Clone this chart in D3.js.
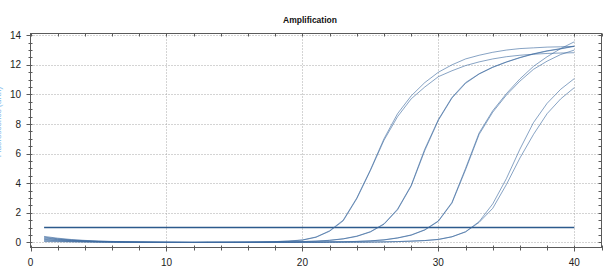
<!DOCTYPE html>
<html>
<head>
<meta charset="utf-8">
<script src="https://cdn.jsdelivr.net/npm/d3@7"></script>
<style>
  html, body { margin: 0; padding: 0; background: #fff; }
  svg { display: block; font-family: "Liberation Sans", Arial, sans-serif; }
</style>
</head>
<body>
<svg id="chart" width="613" height="270"></svg>
<script>
// ---- data ----
const chartTitle = "Amplification";
const yAxisLabel = "Fluorescence (dRn)";
const cycles = [1,2,3,4,5,6,7,8,9,10,11,12,13,14,15,16,17,18,19,20,21,22,23,24,25,26,27,28,29,30,31,32,33,34,35,36,37,38,39,40];

const seriesA1 = [0.40,0.28,0.19,0.13,0.09,0.06,0.04,0.03,0.02,0.01,0.00,0.00,0.00,0.00,0.01,0.02,0.03,0.05,0.09,0.16,0.36,0.78,1.50,3.00,4.90,7.00,8.70,9.90,10.80,11.50,12.00,12.40,12.65,12.85,13.00,13.10,13.15,13.20,13.22,13.25];
const seriesA2 = [0.25,0.18,0.12,0.08,0.05,0.03,0.02,0.01,0.00,0.00,-0.01,-0.01,0.00,0.00,0.00,0.01,0.02,0.04,0.08,0.15,0.34,0.75,1.45,2.95,4.85,6.90,8.50,9.70,10.50,11.20,11.60,11.95,12.20,12.40,12.55,12.65,12.72,12.77,12.80,12.82];
const seriesB1 = [0.30,0.21,0.14,0.09,0.06,0.04,0.02,0.01,0.00,0.00,0.00,-0.01,-0.01,0.00,0.00,0.00,0.01,0.02,0.03,0.05,0.08,0.14,0.24,0.42,0.72,1.25,2.25,3.85,6.30,8.30,9.80,10.80,11.40,11.85,12.20,12.50,12.75,12.95,13.10,13.27];
const seriesB2 = [0.15,0.11,0.07,0.05,0.03,0.02,0.01,0.00,0.00,-0.01,-0.01,-0.01,0.00,0.00,0.00,0.00,0.01,0.02,0.03,0.05,0.08,0.13,0.23,0.40,0.70,1.22,2.20,3.80,6.20,8.25,9.75,10.75,11.38,11.83,12.18,12.48,12.73,12.93,13.08,13.25];
const seriesC1 = [0.35,0.24,0.16,0.11,0.07,0.05,0.03,0.02,0.01,0.00,0.00,0.00,0.00,0.00,0.00,0.00,0.00,0.00,0.01,0.01,0.02,0.03,0.04,0.06,0.10,0.17,0.30,0.50,0.85,1.45,2.70,5.00,7.40,8.90,10.05,11.05,11.90,12.55,13.10,13.56];
const seriesC2 = [0.20,0.14,0.10,0.07,0.04,0.03,0.02,0.01,0.00,0.00,0.00,-0.01,0.00,0.00,0.00,0.00,0.00,0.00,0.01,0.01,0.02,0.03,0.04,0.06,0.10,0.16,0.29,0.48,0.83,1.42,2.65,4.90,7.30,8.80,9.95,10.90,11.70,12.25,12.70,13.00];
const seriesD1 = [0.10,0.07,0.05,0.03,0.02,0.01,0.01,0.00,0.00,0.00,0.00,0.00,0.00,0.00,0.00,0.00,0.00,0.00,0.00,0.00,0.00,0.01,0.01,0.01,0.02,0.03,0.05,0.08,0.12,0.20,0.38,0.72,1.40,2.60,4.30,6.30,8.10,9.40,10.35,11.07];
const seriesD2 = [0.05,0.04,0.03,0.02,0.01,0.01,0.00,0.00,0.00,0.00,0.00,0.00,0.00,0.00,0.00,0.00,0.00,0.00,0.00,0.00,0.00,0.01,0.01,0.01,0.02,0.03,0.05,0.08,0.12,0.19,0.37,0.70,1.35,2.30,3.90,5.70,7.30,8.70,9.70,10.46];
const thresholdValue = 1.0;
const thresholdCycles = [1, 40];

const yTickValues = [0,2,4,6,8,10,12,14];
const xTickValues = [0,10,20,30,40];

// ---- layout ----
const svg = d3.select("#chart");
const pL = 30.5, pR = 601.5, pT = 33.5, pB = 247.5;
const x = d3.scaleLinear().domain([0, 42]).range([pL, pR]);
const y = d3.scaleLinear().domain([-0.35, 14.12]).range([pB, pT]);

const allSeries = [seriesA1, seriesA2, seriesB1, seriesB2, seriesC1, seriesC2, seriesD1, seriesD2];

// grid
const yMinor = d3.range(0, 14.01, 0.5);
const xMinor = d3.range(0, 42.01, 2);
const grid = svg.append("g");
grid.selectAll("line.gy").data(yTickValues).join("line")
  .attr("x1", pL).attr("x2", pR)
  .attr("y1", d => Math.round(y(d)) + 0.5).attr("y2", d => Math.round(y(d)) + 0.5)
  .attr("stroke", "#a8a8a8").attr("stroke-width", 1).attr("stroke-dasharray", "1,2");
grid.selectAll("line.gx").data(xTickValues.filter(d => d > 0)).join("line")
  .attr("y1", pT).attr("y2", pB)
  .attr("x1", d => Math.round(x(d)) + 0.5).attr("x2", d => Math.round(x(d)) + 0.5)
  .attr("stroke", "#a8a8a8").attr("stroke-width", 1).attr("stroke-dasharray", "1,2");

// clip
svg.append("clipPath").attr("id", "clip").append("rect")
  .attr("x", pL).attr("y", pT).attr("width", pR - pL).attr("height", pB - pT);

const line = d3.line().x((d, i) => x(cycles[i])).y(d => y(d));
const plot = svg.append("g").attr("clip-path", "url(#clip)");

plot.append("line")
  .attr("x1", x(thresholdCycles[0])).attr("x2", x(thresholdCycles[1]))
  .attr("y1", y(thresholdValue)).attr("y2", y(thresholdValue))
  .attr("stroke", "#2c5a8c").attr("stroke-width", 1.5);

plot.selectAll("path.curve").data(allSeries).join("path")
  .attr("class", "curve")
  .attr("d", line)
  .attr("fill", "none")
  .attr("stroke", "#3d6b9f")
  .attr("stroke-opacity", 0.62)
  .attr("stroke-width", 1);

// frame
const axisColor = "#5a5a5a";
svg.append("rect").attr("x", pL).attr("y", pT).attr("width", pR - pL).attr("height", pB - pT)
  .attr("fill", "none").attr("stroke", axisColor).attr("stroke-width", 1);

// ticks
const tk = svg.append("g").attr("stroke", axisColor).attr("stroke-width", 1);
tk.selectAll("line.yl").data(yMinor).join("line")
  .attr("x1", d => yTickValues.includes(d) ? pL - 4 : pL - 2)
  .attr("x2", pL + 2)
  .attr("y1", d => Math.round(y(d)) + 0.5).attr("y2", d => Math.round(y(d)) + 0.5);
tk.selectAll("line.yr").data(yMinor).join("line")
  .attr("x1", pR - 3).attr("x2", pR)
  .attr("y1", d => Math.round(y(d)) + 0.5).attr("y2", d => Math.round(y(d)) + 0.5);
tk.selectAll("line.xb").data(xMinor).join("line")
  .attr("x1", d => Math.round(x(d)) + 0.5).attr("x2", d => Math.round(x(d)) + 0.5)
  .attr("y1", pB - 2).attr("y2", d => xTickValues.includes(d) ? pB + 4 : pB + 3);
tk.selectAll("line.xt").data(xMinor).join("line")
  .attr("x1", d => Math.round(x(d)) + 0.5).attr("x2", d => Math.round(x(d)) + 0.5)
  .attr("y1", pT).attr("y2", pT + 3);

// labels
svg.selectAll("text.yl").data(yTickValues).join("text")
  .attr("x", 21).attr("y", d => y(d)).attr("dy", "0.35em")
  .attr("text-anchor", "end").attr("font-size", 10).attr("fill", "#222")
  .text(d => d);
svg.selectAll("text.xl").data(xTickValues).join("text")
  .attr("x", d => x(d)).attr("y", 266)
  .attr("text-anchor", "middle").attr("font-size", 10).attr("fill", "#222")
  .text(d => d);

svg.append("text").attr("x", 310).attr("y", 23)
  .attr("text-anchor", "middle").attr("font-size", 8.5).attr("font-weight", "bold").attr("fill", "#111")
  .text(chartTitle);

svg.append("text")
  .attr("transform", `translate(1, 122) rotate(-90)`)
  .attr("text-anchor", "middle").attr("font-size", 8).attr("fill", "#7ab6ea")
  .text(yAxisLabel);
</script>
</body>
</html>
